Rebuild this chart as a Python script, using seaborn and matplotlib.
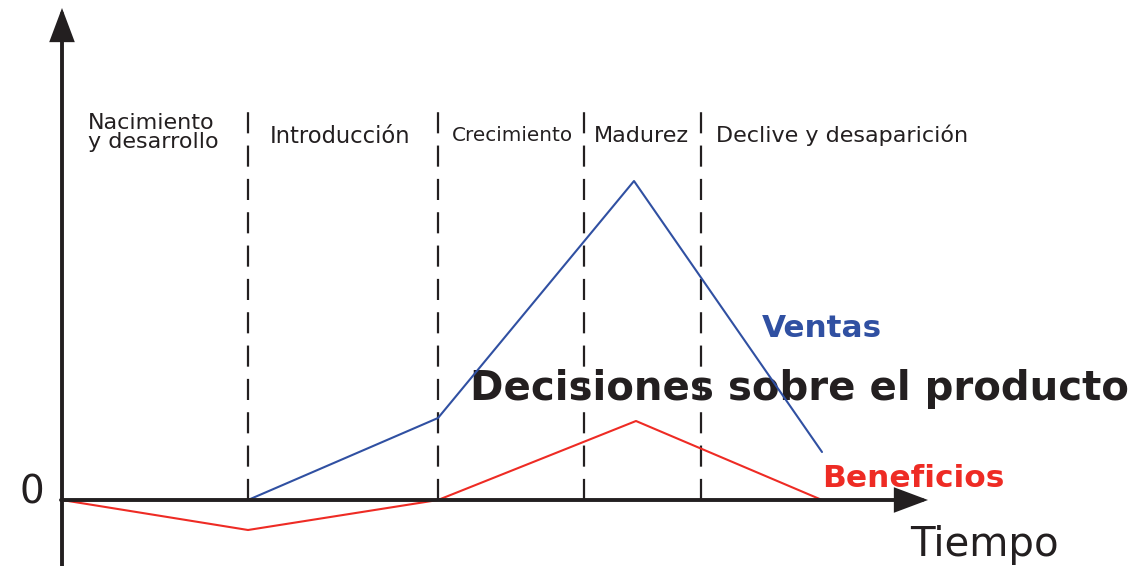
import matplotlib
matplotlib.use("Agg")
import matplotlib.pyplot as plt
import seaborn as sns
import pandas as pd

# product life cycle, time units arbitrary
ventas_t = [18.6, 37.6, 57.2, 76.0]
ventas_v = [0.0, 8.2, 31.9, 4.8]
beneficios_t = [0.0, 18.6, 37.6, 57.4, 76.0]
beneficios_v = [0.0, -3.0, 0.0, 7.9, 0.0]
stage_limits = [18.6, 37.6, 52.2, 63.9]
stage_names = ["Nacimiento\ny desarrollo", "Introducción", "Crecimiento", "Madurez", "Declive y desaparición"]

BLUE = "#3050a2"
RED = "#ee2b24"
INK = "#231f20"

sns.set_theme(style="white")
plt.rcParams['font.family'] = ['DejaVu Sans']

fig = plt.figure(figsize=(11.48, 5.66), dpi=100)
ax = fig.add_axes([0, 0, 1, 1])
ax.set_xlim(-6.2, 108.6)
ax.set_ylim(-6.6, 50.0)
ax.axis("off")

df_v = pd.DataFrame({"t": ventas_t, "v": ventas_v})
df_b = pd.DataFrame({"t": beneficios_t, "v": beneficios_v})
sns.lineplot(data=df_v, x="t", y="v", ax=ax, color=BLUE, lw=1.5, zorder=4)
sns.lineplot(data=df_b, x="t", y="v", ax=ax, color=RED, lw=1.5, zorder=4)

# stage separators
for xs in stage_limits:
    ax.plot([xs, xs], [0, 39], color=INK, lw=1.6, linestyle=(0, (9.5, 5.5)), zorder=3)

# axes with arrow heads
arrow = dict(arrowstyle="-|>,head_length=0.8,head_width=0.3", color=INK, lw=2.8,
             mutation_scale=24, shrinkA=0, shrinkB=0, joinstyle="miter")
ax.annotate("", xy=(0, 49.2), xytext=(0, -6.8), zorder=5, arrowprops=arrow)
ax.annotate("", xy=(86.6, 0), xytext=(-0.1, 0), zorder=5, arrowprops=arrow)

# stage labels
ax.text(2.6, 35.2, stage_names[0], fontsize=16, color=INK, ha="left", va="baseline",
        linespacing=0.92, zorder=1)
ax.text(20.8, 35.7, stage_names[1], fontsize=16.3, color=INK, ha="left", va="baseline", zorder=1)
ax.text(39.0, 35.9, stage_names[2], fontsize=14.4, color=INK, ha="left", va="baseline", zorder=1)
ax.text(53.2, 35.8, stage_names[3], fontsize=16, color=INK, ha="left", va="baseline", zorder=1)
ax.text(65.4, 35.8, stage_names[4], fontsize=16, color=INK, ha="left", va="baseline", zorder=1)

ax.text(70.0, 16.3, "Ventas", fontsize=22.4, fontweight="bold", color=BLUE, ha="left", va="baseline", zorder=1)
ax.text(40.8, 10.0, "Decisiones sobre el producto", fontsize=29, fontweight="bold", color=INK,
        ha="left", va="baseline", zorder=1)
ax.text(76.0, 1.3, "Beneficios", fontsize=22.5, fontweight="bold", color=RED, ha="left", va="baseline", zorder=1)
ax.text(-1.8, -0.4, "0", fontsize=28, color=INK, ha="right", va="baseline", zorder=1)
ax.text(84.8, -5.6, "Tiempo", fontsize=29, color=INK, ha="left", va="baseline", zorder=1)

fig.savefig("out.png", dpi=100)
